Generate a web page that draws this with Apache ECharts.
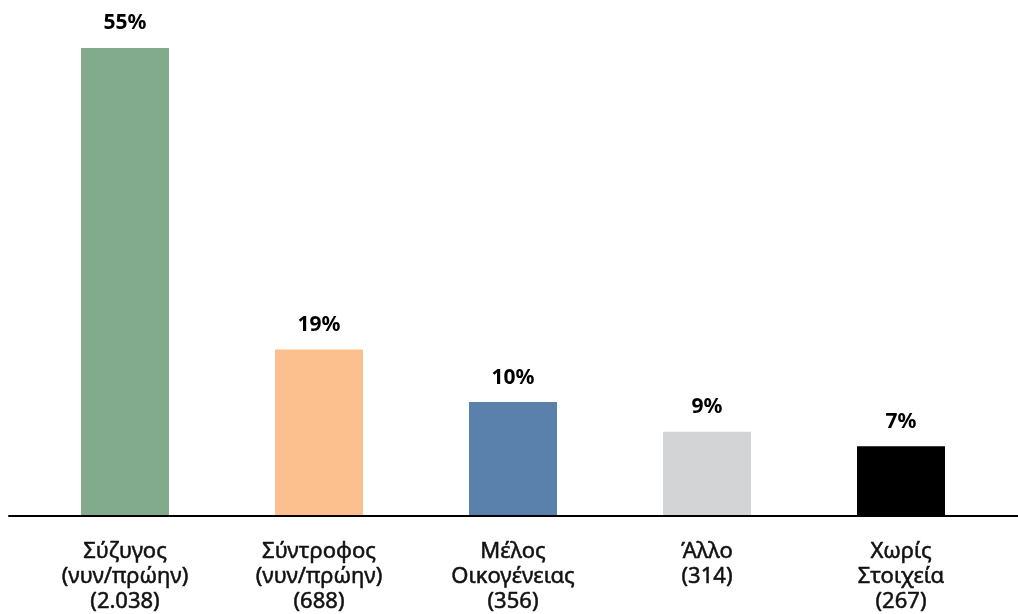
<!DOCTYPE html>
<html><head><meta charset="utf-8">
<script src="https://cdn.jsdelivr.net/npm/echarts@6/dist/echarts.min.js"></script>
<style>html,body{margin:0;padding:0;background:#fff}#c{width:1018px;height:614px}</style>
</head><body><div id="c"></div>
<script>
const categories = ['Σύζυγος\n(νυν/πρώην)\n(2.038)', 'Σύντροφος\n(νυν/πρώην)\n(688)', 'Μέλος\nΟικογένειας\n(356)', 'Άλλο\n(314)', 'Χωρίς\nΣτοιχεία\n(267)'];
const barHeights = [55, 19.5, 13.3, 9.8, 8.1];
const valueLabels = ['55%', '19%', '10%', '9%', '7%'];
const barColors = ['#82AB8E', '#FBC08D', '#5A81AC', '#D3D4D6', '#000000'];

const chart = echarts.init(document.getElementById('c'), null, {renderer: 'canvas'});
chart.setOption({
  animation: false,
  backgroundColor: '#ffffff',
  grid: [
    {left: 28, right: 20, top: 48, bottom: 98},
    {left: 9, right: 0, top: 48, bottom: 98}
  ],
  xAxis: [
    {type: 'category', gridIndex: 0, data: categories,
     axisLine: {show: false}, axisTick: {show: false},
     axisLabel: {interval: 0, margin: 24, color: '#111', fontFamily: 'Noto Sans', fontSize: 22, lineHeight: 25,
       textBorderColor: '#111', textBorderWidth: 0.5}},
    {type: 'category', gridIndex: 1, data: categories,
     axisLine: {show: true, lineStyle: {color: '#000', width: 2}}, axisTick: {show: false}, axisLabel: {show: false}}
  ],
  yAxis: [
    {type: 'value', gridIndex: 0, min: 0, max: 55, show: false},
    {type: 'value', gridIndex: 1, min: 0, max: 55, show: false}
  ],
  series: [{
    type: 'bar', xAxisIndex: 0, yAxisIndex: 0, barWidth: 88,
    data: barHeights.map((v, i) => ({value: v, itemStyle: {color: barColors[i]}})),
    label: {show: true, position: 'top', distance: 14, color: '#000', fontFamily: 'Noto Sans', fontWeight: 'bold', fontSize: 21,
      formatter: p => valueLabels[p.dataIndex]}
  }]
});
</script></body></html>
